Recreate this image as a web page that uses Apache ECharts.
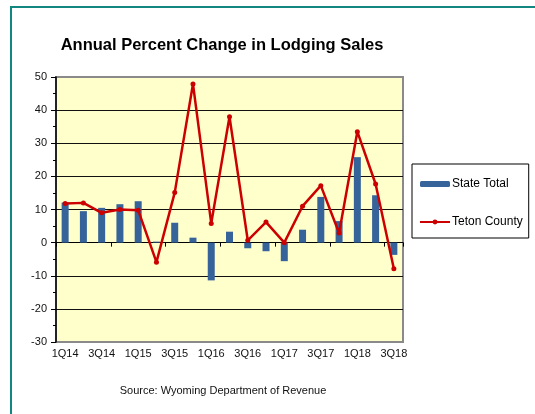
<!DOCTYPE html>
<html>
<head>
<meta charset="utf-8">
<script src="https://cdn.jsdelivr.net/npm/echarts@6/dist/echarts.min.js"></script>
<style>
  html, body { margin: 0; padding: 0; background: #fff; }
  #chart { width: 535px; height: 414px; }
</style>
</head>
<body>
<div id="chart"></div>
<script>
  // quarters 1Q14 .. 3Q18
  const quarters = ['1Q14', '2Q14', '3Q14', '4Q14', '1Q15', '2Q15', '3Q15', '4Q15', '1Q16', '2Q16',
    '3Q16', '4Q16', '1Q17', '2Q17', '3Q17', '4Q17', '1Q18', '2Q18', '3Q18'];
  const stateTotal = [12.1, 9.5, 10.5, 11.6, 12.5, 0.3, 6.0, 1.5, -11.4, 3.3,
    -1.7, -2.6, -5.6, 3.9, 13.8, 6.5, 25.8, 14.3, -3.7];
  const tetonCounty = [11.8, 12.0, 9.0, 10.0, 9.8, -5.9, 15.1, 47.9, 5.8, 38.0,
    0.7, 6.2, 0, 11.0, 17.2, 2.9, 33.5, 17.7, -7.9];

  const FONT = 'Liberation Sans, Arial, sans-serif';

  let chart = echarts.init(document.getElementById('chart'));

  let option = {
    backgroundColor: '#fff',
    animation: false,
    title: [{
      text: 'Annual Percent Change in Lodging Sales',
      left: 222,
      textAlign: 'center',
      top: 37,
      padding: 0,
      textStyle: { fontFamily: FONT, fontSize: 16.5, fontWeight: 'bold', color: '#000' }
    }, {
      text: 'Source: Wyoming Department of Revenue',
      left: 223,
      textAlign: 'center',
      top: 385,
      padding: 0,
      textStyle: { fontFamily: FONT, fontSize: 11, fontWeight: 'normal', color: '#111' }
    }],
    graphic: [{
      type: 'rect',
      shape: { x: 11, y: 7, width: 700, height: 600 },
      style: { fill: 'none', stroke: '#12877f', lineWidth: 2 },
      silent: true
    }],
    legend: {
      orient: 'vertical',
      left: 412,
      top: 164,
      padding: [14, 6, 10, 7],
      itemGap: 26,
      itemWidth: 30,
      itemHeight: 6,
      borderColor: '#000',
      borderWidth: 1,
      textStyle: { fontFamily: FONT, fontSize: 12, color: '#000', padding: [0, 0, 0, -3] },
      data: ['State Total', 'Teton County']
    },
    grid: {
      left: 56,
      top: 77,
      width: 347,
      height: 265,
      show: true,
      backgroundColor: '#ffffcc',
      borderColor: '#8a8a8a',
      borderWidth: 2
    },
    xAxis: [{
      type: 'category',
      data: quarters,
      position: 'bottom',
      axisLine: { show: false, onZero: false },
      axisTick: { show: false },
      axisLabel: {
        interval: 1,
        margin: 6,
        fontFamily: FONT,
        fontSize: 11,
        color: '#111'
      }
    }, {
      type: 'category',
      data: quarters,
      position: 'top',
      axisLine: { show: true, onZero: true, lineStyle: { color: '#000', width: 1 } },
      axisTick: { show: true, inside: true, length: 4, lineStyle: { color: '#000' } },
      axisLabel: { show: false }
    }],
    yAxis: {
      type: 'value',
      min: -30,
      max: 50,
      interval: 10,
      axisLine: { show: true, lineStyle: { color: '#000', width: 1.5 } },
      axisTick: { show: true, length: 5, lineStyle: { color: '#000' } },
      minorTick: { show: true, splitNumber: 2, length: 3, lineStyle: { color: '#000' } },
      splitLine: { show: true, showMinLine: false, showMaxLine: false, lineStyle: { color: '#111', width: 1 } },
      axisLabel: { margin: 9, fontFamily: FONT, fontSize: 11, color: '#111' }
    },
    series: [{
      name: 'State Total',
      type: 'bar',
      xAxisIndex: 0,
      barWidth: 7,
      itemStyle: { color: '#36639a' },
      data: stateTotal
    }, {
      name: 'Teton County',
      type: 'line',
      xAxisIndex: 0,
      symbol: 'circle',
      symbolSize: 5,
      lineStyle: { color: '#cc0000', width: 2.5 },
      itemStyle: { color: '#cc0000' },
      data: tetonCounty
    }]
  };

  chart.setOption(option);
</script>
</body>
</html>
